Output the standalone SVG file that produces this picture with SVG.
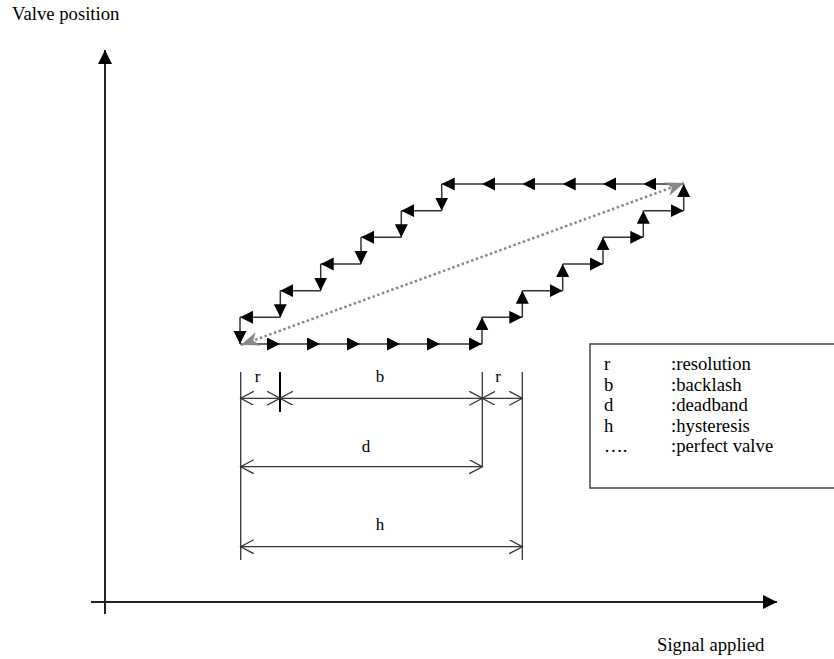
<svg xmlns="http://www.w3.org/2000/svg" width="834" height="659" viewBox="0 0 834 659">
<defs>
<style>
text{font-family:"Liberation Serif","Times New Roman",serif;fill:#000}
.lbl{font-size:18.7px}
.dim{font-size:17px;text-anchor:middle}
.axis{stroke:#222;stroke-width:2;fill:none}
.step{stroke:#333;stroke-width:1.5;fill:none;marker-end:url(#ah)}
.dl{stroke:#333;stroke-width:1.3;fill:none}
.dimline{stroke:#333;stroke-width:1.3;fill:none;marker-start:url(#oa);marker-end:url(#oa)}
.perfect{stroke:#888;stroke-width:2.5;stroke-dasharray:2.5 2.5;fill:none;marker-start:url(#ga);marker-end:url(#ga)}
</style>
<marker id="ah" markerUnits="userSpaceOnUse" markerWidth="14" markerHeight="14" refX="13" refY="6.5" orient="auto"><path d="M0,0 L13,6.5 L0,13 Z" fill="#000"/></marker>
<marker id="axh" markerUnits="userSpaceOnUse" markerWidth="15" markerHeight="15" refX="14" refY="7" orient="auto"><path d="M0,0 L14,7 L0,14 Z" fill="#000"/></marker>
<marker id="oa" markerUnits="userSpaceOnUse" markerWidth="16" markerHeight="16" refX="13" refY="7" orient="auto-start-reverse"><path d="M0,0 L13,7 L0,14" fill="none" stroke="#333" stroke-width="1.3"/></marker>
<marker id="ga" markerUnits="userSpaceOnUse" markerWidth="20" markerHeight="16" refX="18" refY="7" orient="auto-start-reverse"><path d="M0,0 L18,7 L0,14 L5,7 Z" fill="#888"/></marker>
</defs>
<rect width="834" height="659" fill="#fff"/>

<g id="axes">
<line class="axis" x1="105" y1="614" x2="105" y2="50" marker-end="url(#axh)"/>
<line class="axis" x1="91" y1="602" x2="777" y2="602" marker-end="url(#axh)"/>
<text class="lbl" x="12" y="20">Valve position</text>
<text class="lbl" x="657" y="651">Signal applied</text>
</g>

<g id="connectors">
<line class="step" x1="240" y1="344" x2="280" y2="344"/>
<line class="step" x1="280" y1="344" x2="320" y2="344"/>
<line class="step" x1="320" y1="344" x2="360" y2="344"/>
<line class="step" x1="360" y1="344" x2="400" y2="344"/>
<line class="step" x1="400" y1="344" x2="440" y2="344"/>
<line class="step" x1="440" y1="344" x2="482" y2="344"/>
<line class="step" x1="482" y1="344" x2="482" y2="317.3"/>
<line class="step" x1="482" y1="317.3" x2="522.3" y2="317.3"/>
<line class="step" x1="522.3" y1="317.3" x2="522.3" y2="290.7"/>
<line class="step" x1="522.3" y1="290.7" x2="562.7" y2="290.7"/>
<line class="step" x1="562.7" y1="290.7" x2="562.7" y2="264"/>
<line class="step" x1="562.7" y1="264" x2="603" y2="264"/>
<line class="step" x1="603" y1="264" x2="603" y2="237.3"/>
<line class="step" x1="603" y1="237.3" x2="643.3" y2="237.3"/>
<line class="step" x1="643.3" y1="237.3" x2="643.3" y2="210.7"/>
<line class="step" x1="643.3" y1="210.7" x2="683.7" y2="210.7"/>
<line class="step" x1="683.7" y1="210.7" x2="683.7" y2="184"/>
<line class="step" x1="683.7" y1="184" x2="643.3" y2="184"/>
<line class="step" x1="643.3" y1="184" x2="603" y2="184"/>
<line class="step" x1="603" y1="184" x2="562.7" y2="184"/>
<line class="step" x1="562.7" y1="184" x2="522.3" y2="184"/>
<line class="step" x1="522.3" y1="184" x2="482" y2="184"/>
<line class="step" x1="482" y1="184" x2="441.7" y2="184"/>
<line class="step" x1="441.7" y1="184" x2="441.7" y2="210.7"/>
<line class="step" x1="441.7" y1="210.7" x2="401.3" y2="210.7"/>
<line class="step" x1="401.3" y1="210.7" x2="401.3" y2="237.3"/>
<line class="step" x1="401.3" y1="237.3" x2="361" y2="237.3"/>
<line class="step" x1="361" y1="237.3" x2="361" y2="264"/>
<line class="step" x1="361" y1="264" x2="320.7" y2="264"/>
<line class="step" x1="320.7" y1="264" x2="320.7" y2="290.7"/>
<line class="step" x1="320.7" y1="290.7" x2="280.3" y2="290.7"/>
<line class="step" x1="280.3" y1="290.7" x2="280.3" y2="317.3"/>
<line class="step" x1="280.3" y1="317.3" x2="240" y2="317.3"/>
<line class="step" x1="240" y1="317.3" x2="240" y2="344"/>
<line class="perfect" x1="241" y1="345" x2="684" y2="183"/>
</g>

<g id="dimensions">
<line class="dl" x1="240.7" y1="372" x2="240.7" y2="560"/>
<line class="dl" x1="280" y1="372" x2="280" y2="412" style="stroke:#000;stroke-width:2"/>
<line class="dl" x1="482.3" y1="372" x2="482.3" y2="467"/>
<line class="dl" x1="522.3" y1="372" x2="522.3" y2="560"/>
<line class="dimline" x1="240.7" y1="398.3" x2="280" y2="398.3"/>
<line class="dimline" x1="280" y1="398.3" x2="482.3" y2="398.3"/>
<line class="dimline" x1="482.3" y1="398.3" x2="522.3" y2="398.3"/>
<line class="dimline" x1="240.7" y1="466.7" x2="482.3" y2="466.7"/>
<line class="dimline" x1="240.7" y1="546.7" x2="522.3" y2="546.7"/>
<text class="dim" x="257.5" y="382">r</text>
<text class="dim" x="380" y="382">b</text>
<text class="dim" x="498" y="382">r</text>
<text class="dim" x="366" y="452">d</text>
<text class="dim" x="380" y="530">h</text>
</g>

<g id="legend">
<rect x="590" y="344" width="260" height="144" fill="none" stroke="#444" stroke-width="1.5"/>
<text class="lbl" x="604" y="370">r</text><text class="lbl" x="671" y="370">:resolution</text>
<text class="lbl" x="604" y="390.5">b</text><text class="lbl" x="671" y="390.5">:backlash</text>
<text class="lbl" x="604" y="411">d</text><text class="lbl" x="671" y="411">:deadband</text>
<text class="lbl" x="604" y="431.5">h</text><text class="lbl" x="671" y="431.5">:hysteresis</text>
<text class="lbl" x="604" y="452">….</text><text class="lbl" x="671" y="452">:perfect valve</text>
</g>
</svg>
